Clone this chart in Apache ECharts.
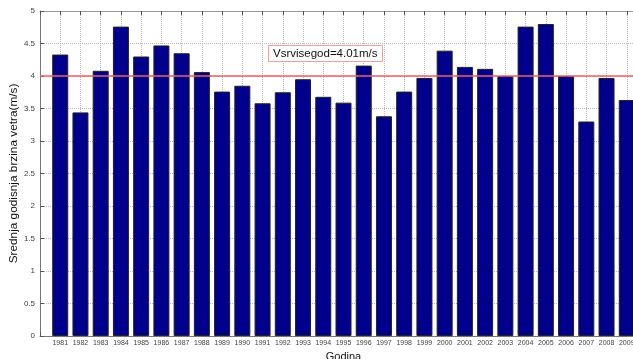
<!DOCTYPE html>
<html><head><meta charset="utf-8">
<script src="https://cdn.jsdelivr.net/npm/echarts@6/dist/echarts.min.js"></script>
<style>html,body{margin:0;padding:0;background:#fff}#c{width:633px;height:359px}</style>
</head><body><div id="c"></div>
<script>
const years = [1981,1982,1983,1984,1985,1986,1987,1988,1989,1990,1991,1992,1993,1994,1995,1996,1997,1998,1999,2000,2001,2002,2003,2004,2005,2006,2007,2008,2009];
const speeds = [4.33,3.44,4.08,4.76,4.30,4.47,4.35,4.06,3.76,3.85,3.58,3.75,3.95,3.68,3.59,4.16,3.38,3.76,3.97,4.39,4.14,4.11,4.00,4.76,4.80,4.00,3.30,3.97,3.63];
const meanValue = 4.01;
const annotation = 'Vsrvisegod=4.01m/s';
const yLabel = 'Srednja godisnja brzina vetra(m/s)';
const xLabel = 'Godina';

const chart = echarts.init(document.getElementById('c'), null, {renderer:'canvas'});
const font = 'Liberation Sans, Arial, sans-serif';
chart.setOption({
  animation:false,
  backgroundColor:'#fff',
  title:{text:annotation,left:268,top:45,padding:[3,5,2,5],borderColor:'#f0a0a0',borderWidth:1,backgroundColor:'#fff',
    textStyle:{fontSize:11.5,fontWeight:'normal',color:'#111',fontFamily:font}},
  grid:{left:40,top:11,right:-14,bottom:23,outerBoundsMode:'none',containLabel:false},
  xAxis:[{type:'value',min:1980,max:2010,interval:1,
    name:xLabel,nameLocation:'middle',nameGap:15,nameMoveOverlap:false,nameTextStyle:{fontSize:11,color:'#111',fontFamily:font},
    axisLine:{lineStyle:{color:'#777'}},
    axisTick:{inside:true,length:4,lineStyle:{color:'#555'}},
    axisLabel:{fontSize:7,color:'#444',margin:4,fontFamily:font,formatter:v=>years.includes(v)?String(v):''},
    splitLine:{show:true,lineStyle:{type:'dotted',color:'#bbb'}}},
   {type:'value',position:'top',min:1980,max:2010,interval:1,
    axisLine:{lineStyle:{color:'#999'}},axisTick:{inside:true,length:4,lineStyle:{color:'#555'}},
    axisLabel:{show:false},splitLine:{show:false}}],
  yAxis:{type:'value',min:0,max:5,interval:0.5,
    name:yLabel,nameLocation:'middle',nameRotate:90,nameGap:20,nameMoveOverlap:false,nameTextStyle:{fontSize:11.8,color:'#111',fontFamily:font},
    axisLine:{show:true,lineStyle:{color:'#777'}},
    axisTick:{show:true,inside:true,length:4,lineStyle:{color:'#555'}},
    axisLabel:{fontSize:8,color:'#444',margin:5,fontFamily:font},
    splitLine:{show:true,lineStyle:{type:'dotted',color:'#bbb'}}},
  series:[{type:'bar',barWidth:16,data:years.map((y,i)=>[y,speeds[i]]),
    itemStyle:{color:'#00008c',borderColor:'#222',borderWidth:1},
    markLine:{silent:true,symbol:'none',label:{show:false},
      lineStyle:{color:'#f06060',width:1.5,type:'solid'},data:[{yAxis:meanValue}]}}]
});
</script></body></html>
